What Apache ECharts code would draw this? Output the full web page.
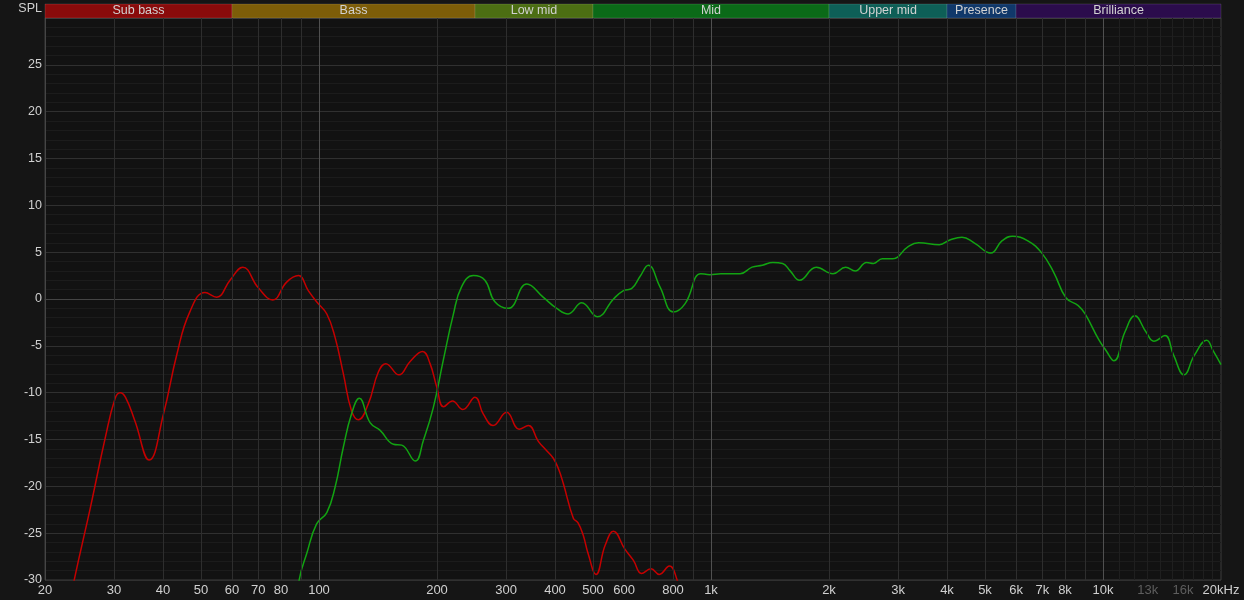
<!DOCTYPE html>
<html><head><meta charset="utf-8">
<script src="https://cdn.jsdelivr.net/npm/echarts@6/dist/echarts.min.js"></script>
<style>html,body{margin:0;padding:0;background:#151515;}#c{width:1244px;height:600px;}</style>
</head><body><div id="c"></div>
<script>
const redFreq = [22.5,23.8,26.1,28.5,30.2,31.1,32.1,33.9,36.9,40.1,43.4,46.8,51.2,54.8,59.3,63.9,70,76.2,82.7,88.6,93.9,98.6,104.7,109.9,115.4,121,126,133.6,141.7,148,160,170.6,183.8,192,199.7,208,219,232.7,250,262.6,278,301,324,342,362.7,381,396,408,420,445.5,458,472,486,509,537,563.7,603,634,665,703,738,783,818,835];
const redDb = [-35,-29.8,-22.3,-14.8,-10.6,-10.0,-10.5,-13.0,-17.2,-12.3,-5.9,-1.4,0.7,0.2,2.0,3.4,1.2,-0.1,1.8,2.5,0.9,-0.3,-1.6,-4.1,-8.0,-11.9,-12.9,-11.2,-7.8,-6.9,-8.1,-6.7,-5.6,-6.9,-9.4,-11.5,-10.9,-11.8,-10.5,-12.3,-13.5,-12.1,-13.9,-13.5,-15.2,-16.2,-17.0,-18.1,-19.7,-23.4,-23.9,-25.2,-27.2,-29.4,-26.3,-24.8,-26.7,-27.9,-29.3,-28.8,-29.4,-28.5,-29.9,-32];
const greenFreq = [87,89.1,93,98.6,104.7,109.9,115.4,121,126.7,135,143,154.8,162.6,176,184.6,195.7,207.6,220,231,247.6,265,281,304,339,373,404,432,468,513,564,598,627,659,692,741,802,859,942,994,1060,1186,1273,1352,1438,1523,1592,1683,1855,2047,2206,2332,2494,2598,2734,2907,3184,3386,3824,4066,4368,4690,5175,5522,5870,6431,6982,7496,8054,8646,9004,9772,10178,10664,11380,12053,12865,13480,14390,15140,16094,17110,18380,19140,20000];
const greenDb = [-34,-29.9,-27.2,-24.0,-22.8,-20.1,-15.8,-12.3,-10.6,-13.2,-14.0,-15.5,-15.6,-17.3,-15.1,-11.6,-6.5,-1.7,1.3,2.5,2.0,-0.3,-1.0,1.6,0.2,-1.0,-1.6,-0.4,-1.9,0.0,0.9,1.1,2.4,3.6,1.3,-1.4,-0.5,2.7,2.6,2.7,2.7,3.4,3.6,3.9,3.8,3.0,2.0,3.4,2.7,3.4,3.0,3.9,3.8,4.3,4.3,5.6,6.0,5.8,6.3,6.6,6.0,4.9,6.2,6.7,6.2,4.9,2.8,0.1,-0.7,-1.6,-4.4,-5.5,-6.6,-3.5,-1.8,-3.5,-4.5,-3.9,-6.0,-8.1,-6.0,-4.4,-5.6,-7.0];

const xTickValues = [20,30,40,50,60,70,80,100,200,300,400,500,600,800,1000,2000,3000,4000,5000,6000,7000,8000,10000,13000,16000,20000];
const xTickLabels = ['20','30','40','50','60','70','80','100','200','300','400','500','600','800','1k','2k','3k','4k','5k','6k','7k','8k','10k','13k','16k','20kHz'];
const dimLabels = ['13k','16k'];
const gridFreqs = [30,40,50,60,70,80,90,200,300,400,500,600,700,800,900,2000,3000,4000,5000,6000,7000,8000,9000];
const decadeFreqs = [100,1000,10000];
const minorFreqs = [11000,12000,13000,14000,15000,16000,17000,18000,19000];

const bandNames = ['Sub bass','Bass','Low mid','Mid','Upper mid','Presence','Brilliance'];
const bandEdges = [20,60,250,500,2000,4000,6000,20000];
const bandColors = ['#8a0b0b','#7d5d08','#4c6e13','#0b6a18','#0e5f57','#10386a','#2b0c4c'];

const FONT = "'Liberation Sans', Arial, sans-serif";
const pair = (fs, ds) => fs.map((f, i) => [f, ds[i]]);
const labelIndex = v => xTickValues.findIndex(t => Math.abs(Math.log10(t) - Math.log10(v)) < 1e-4);

const vLine = (f, color) => ({xAxis: f, lineStyle: {color: color, width: 1, type: 'solid'}});

const chart = echarts.init(document.getElementById('c'));
chart.setOption({
  backgroundColor: '#151515',
  animation: false,
  graphic: [{type: 'text', right: 1202, top: 2, style: {text: 'SPL', fill: '#cfcfcf', font: '12.5px ' + FONT}}],
  grid: [
    {left: 45, right: 23, top: 18, bottom: 20, show: true, backgroundColor: '#121212', borderColor: '#3c3c3c', borderWidth: 1},
    {left: 45, right: 23, top: 4, height: 14, show: false}
  ],
  xAxis: [
    {type: 'log', logBase: 10, min: 20, max: 20000, gridIndex: 0,
     axisLine: {show: true, lineStyle: {color: '#454545'}},
     axisTick: {show: false}, splitLine: {show: false}, minorSplitLine: {show: false},
     axisLabel: {customValues: xTickValues, margin: 4, fontSize: 13, fontFamily: FONT,
       formatter: v => { const i = labelIndex(v); return i >= 0 ? xTickLabels[i] : ''; },
       color: v => { const i = labelIndex(v); return (i >= 0 && dimLabels.includes(xTickLabels[i])) ? '#5e5e5e' : '#d0d0d0'; }}},
    {type: 'log', logBase: 10, min: 20, max: 20000, gridIndex: 1, show: false}
  ],
  yAxis: [
    {type: 'value', min: -30, max: 30, interval: 5, gridIndex: 0,
     axisLine: {show: true, lineStyle: {color: '#454545'}},
     axisTick: {show: false},
     minorTick: {show: false, splitNumber: 5},
     splitLine: {show: true, lineStyle: {color: '#303030', width: 1}},
     minorSplitLine: {show: true, lineStyle: {color: '#1c1c1c', width: 1}},
     axisLabel: {margin: 3, fontSize: 12.5, fontFamily: FONT, color: '#d0d0d0',
       formatter: v => v === 30 ? '' : String(v)}},
    {type: 'value', min: 0, max: 1, gridIndex: 1, show: false}
  ],
  series: [
    {type: 'line', xAxisIndex: 0, yAxisIndex: 0, data: [], z: 1, silent: true,
     markLine: {silent: true, symbol: 'none', label: {show: false}, animation: false,
       data: [].concat(
         minorFreqs.map(f => vLine(f, '#1f1f1f')),
         gridFreqs.map(f => vLine(f, '#2e2e2e')),
         decadeFreqs.map(f => vLine(f, '#505050')))}},
    {type: 'line', xAxisIndex: 1, yAxisIndex: 1, data: [], silent: true,
     markArea: {silent: true,
       label: {show: true, position: 'inside', color: '#d2d2d2', fontSize: 12.5, fontFamily: FONT},
       data: bandNames.map((n, i) => [
         {name: n, xAxis: bandEdges[i], itemStyle: {color: bandColors[i], borderColor: 'rgba(255,255,255,0.12)', borderWidth: 1}},
         {xAxis: bandEdges[i + 1]}])}},
    {name: 'red', type: 'line', xAxisIndex: 0, yAxisIndex: 0, data: pair(redFreq, redDb), z: 3,
     showSymbol: false, smooth: 0.45, clip: true, lineStyle: {color: '#c40000', width: 1.5}},
    {name: 'green', type: 'line', xAxisIndex: 0, yAxisIndex: 0, data: pair(greenFreq, greenDb), z: 3,
     showSymbol: false, smooth: 0.45, clip: true, lineStyle: {color: '#12a312', width: 1.5}}
  ]
});
</script>
</body></html>
